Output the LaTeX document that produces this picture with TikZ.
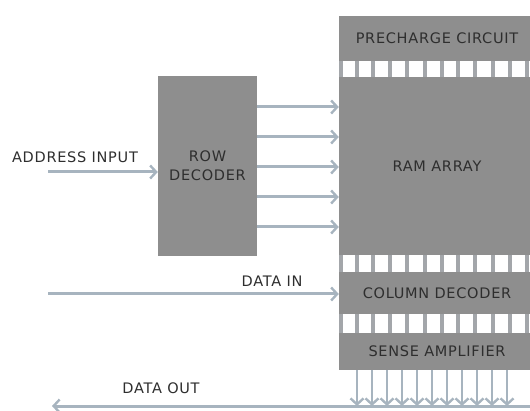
\documentclass[tikz,border=0pt]{standalone}
\usepackage{fontspec}
\setmainfont{DejaVu Sans}[LetterSpace=5]
\usetikzlibrary{positioning}
\usetikzlibrary{arrows.meta}
\definecolor{boxgray}{HTML}{8E8E8E}
\definecolor{bargray}{HTML}{A3A6AA}
\definecolor{wirecol}{HTML}{A7B4BF}
\definecolor{txtcol}{HTML}{2E2E2E}

\begin{document}
\begin{tikzpicture}[x=1pt, y=-1pt, align=center, font=\fontsize{14.5}{19}\selectfont, text=txtcol,
		blknode/.style={rectangle, fill=boxgray, inner sep=0pt},
		wire/.style={draw=wirecol, line width=3pt, -{Straight Barb[length=6pt, width=13pt, line width=2.4pt]}},
		barline/.style={draw=bargray, line width=4.5pt}]
		\useasboundingbox (0,0) rectangle (530,411);
		\node[blknode, minimum width=196, minimum height=45] (precharge) at (437,38.5) {PRECHARGE CIRCUIT};
		\node[blknode, minimum width=196, minimum height=178] (ramarray) at (437,166) {RAM ARRAY};
		\node[blknode, minimum width=196, minimum height=42] (coldecoder) at (437,293) {COLUMN DECODER};
		\node[blknode, minimum width=196, minimum height=37] (senseamp) at (437,351.5) {SENSE AMPLIFIER};
		\node[blknode, minimum width=99, minimum height=180] (rowdecoder) at (207.5,166) {ROW\\DECODER};
		% bars between the blocks
		\foreach \bx in {341,357,373,390,407,425,442,458,475,493,510,527} {
			\draw[barline] (precharge.south -| \bx,0) -- (ramarray.north -| \bx,0);
			\draw[barline] (ramarray.south -| \bx,0) -- (coldecoder.north -| \bx,0);
			\draw[barline] (coldecoder.south -| \bx,0) -- (senseamp.north -| \bx,0);
		}
		% row lines
		\foreach \ry in {107,137,167,197,227}
			\draw[wire] (rowdecoder.east |- 0,\ry) -- (ramarray.west |- 0,\ry);
		% outputs of the sense amplifier
		\coordinate (dataend) at (52,406);
		\coordinate (datastart) at (535,406);
		\foreach \ox in {357,372,387,402,417,432,447,462,477,492,507}
			\draw[wire, line width=2.5pt] (senseamp.south -| \ox,0) -- (dataend -| \ox,-2);
		\coordinate (addrstart) at (48,172);
		\coordinate (dinstart) at (48,294);
		\node (addrlabel) at (75,157) {ADDRESS INPUT};
		\node (dinlabel) at (272,281) {DATA IN};
		\node (doutlabel) at (161,388) {DATA OUT};
		\draw[wire] (addrstart) -- (rowdecoder.west |- addrstart);
		\draw[wire] (dinstart) -- (coldecoder.west |- dinstart);
		\draw[wire] (datastart) -- (dataend);
	\end{tikzpicture}
\end{document}
